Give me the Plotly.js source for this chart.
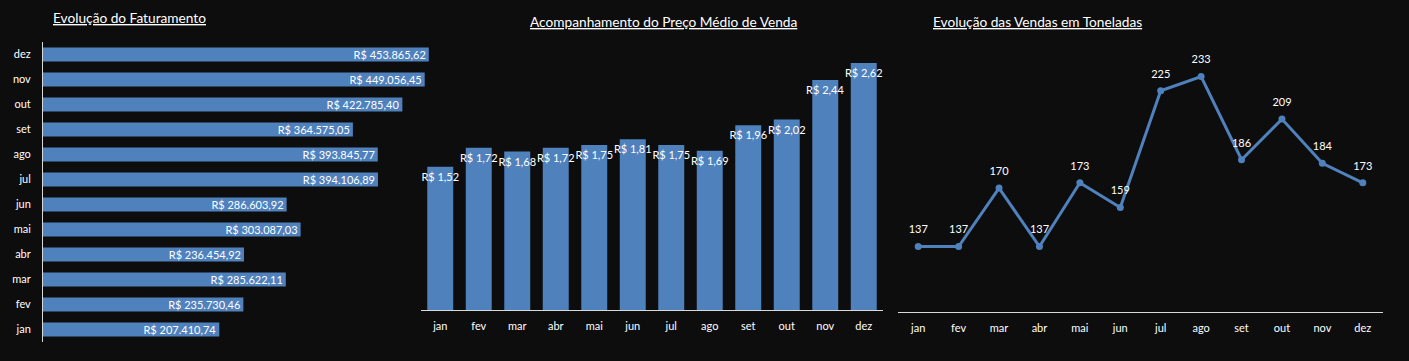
<!DOCTYPE html>
<html>
<head>
<meta charset="utf-8">
<script src="https://cdn.plot.ly/plotly-3.0.1.min.js"></script>
<style>
html,body{margin:0;padding:0;background:#0d0d0d;}
#chart{width:1409px;height:361px;}
</style>
</head>
<body>
<div id="chart"></div>
<script>
const months = ['jan','fev','mar','abr','mai','jun','jul','ago','set','out','nov','dez'];
const faturamento = [207410.74, 235730.46, 285622.11, 236454.92, 303087.03, 286603.92, 394106.89, 393845.77, 364575.05, 422785.40, 449056.45, 453865.62];
const precoMedio = [1.52, 1.72, 1.68, 1.72, 1.75, 1.81, 1.75, 1.69, 1.96, 2.02, 2.44, 2.62];
const toneladas = [137, 137, 170, 137, 173, 159, 225, 233, 186, 209, 184, 173];

const titles = ['Evolução do Faturamento', 'Acompanhamento do Preço Médio de Venda', 'Evolução das Vendas em Toneladas'];

const W = 1409, H = 361;
const px = v => v / W;
const py = v => (H - v) / H;

const FONT = 'Lato, "Open Sans", sans-serif';
const BLUE = '#4f81bd';
const AXIS = '#d9d9d9';

const traces = [
  {
    type: 'bar', orientation: 'h',
    x: faturamento, y: months,
    xaxis: 'x', yaxis: 'y',
    width: 0.56,
    marker: {color: BLUE},
    texttemplate: 'R$ %{x:,.2f}',
    textposition: 'inside', insidetextanchor: 'end',
    constraintext: 'none', textangle: 0, cliponaxis: false,
    textfont: {color: '#ffffff', size: 11, family: FONT},
    hoverinfo: 'skip'
  },
  {
    type: 'bar',
    x: months, y: precoMedio,
    xaxis: 'x2', yaxis: 'y2',
    width: 0.675,
    marker: {color: BLUE},
    texttemplate: 'R$ %{y:.2f}',
    textposition: 'inside', insidetextanchor: 'end',
    constraintext: 'none', textangle: 0, cliponaxis: false,
    textfont: {color: '#ffffff', size: 11, family: FONT},
    hoverinfo: 'skip'
  },
  {
    type: 'scatter', mode: 'lines+markers',
    x: months, y: toneladas,
    xaxis: 'x3', yaxis: 'y3',
    line: {color: BLUE, width: 3},
    marker: {color: BLUE, size: 7},
    hoverinfo: 'skip'
  },
  {
    type: 'scatter', mode: 'markers+text',
    x: months, y: toneladas,
    xaxis: 'x3', yaxis: 'y3',
    marker: {color: 'rgba(0,0,0,0)', size: 15},
    text: toneladas.map(String),
    textposition: 'top center', cliponaxis: false,
    textfont: {color: '#ffffff', size: 11, family: FONT},
    hoverinfo: 'skip'
  }
];

const tickFont = {color: '#ffffff', size: 11, family: FONT};
const titleFont = {color: '#ffffff', size: 13.7, family: FONT};

const layout = {
  width: W, height: H,
  margin: {l: 0, r: 0, t: 0, b: 0},
  paper_bgcolor: '#0d0d0d', plot_bgcolor: 'rgba(0,0,0,0)',
  separators: ',.',
  showlegend: false,
  font: {family: FONT, color: '#ffffff'},
  xaxis: {domain: [px(43), px(451)], range: [0, 480000], showgrid: false, zeroline: false,
          showticklabels: false, showline: false, fixedrange: true},
  yaxis: {domain: [py(342), py(42)], type: 'category', categoryorder: 'array', categoryarray: months,
          range: [-0.5, 11.5], showgrid: false, zeroline: false, showline: true, linecolor: AXIS, linewidth: 1,
          ticks: '', ticklabelstandoff: 9, tickfont: tickFont, fixedrange: true, anchor: 'x'},
  xaxis2: {domain: [px(421), px(883)], type: 'category', categoryorder: 'array', categoryarray: months,
           range: [-0.5, 11.5], showgrid: false, zeroline: false, showline: true, linecolor: AXIS, linewidth: 1,
           ticks: '', ticklabelstandoff: 6, tickfont: tickFont, anchor: 'y2', fixedrange: true},
  yaxis2: {domain: [py(310), py(46)], range: [0, 2.8], showgrid: false, zeroline: false, showline: false,
           showticklabels: false, anchor: 'x2', fixedrange: true},
  xaxis3: {domain: [px(898), px(1383)], type: 'category', categoryorder: 'array', categoryarray: months,
           range: [-0.5, 11.5], showgrid: false, zeroline: false, showline: true, linecolor: AXIS, linewidth: 1,
           ticks: '', ticklabelstandoff: 6, tickfont: tickFont, anchor: 'y3', fixedrange: true},
  yaxis3: {domain: [py(312), py(46.5)], range: [100, 250], showgrid: false, zeroline: false, showline: false,
           showticklabels: false, anchor: 'x3', fixedrange: true},
  annotations: [
    {text: '<u>' + titles[0] + '</u>', xref: 'paper', yref: 'paper', x: px(51), y: py(18),
     xanchor: 'left', yanchor: 'middle', showarrow: false, font: titleFont},
    {text: '<u>' + titles[1] + '</u>', xref: 'paper', yref: 'paper', x: px(663), y: py(22),
     xanchor: 'center', yanchor: 'middle', showarrow: false, font: titleFont},
    {text: '<u>' + titles[2] + '</u>', xref: 'paper', yref: 'paper', x: px(931), y: py(22),
     xanchor: 'left', yanchor: 'middle', showarrow: false, font: titleFont}
  ]
};

Plotly.newPlot('chart', traces, layout, {displayModeBar: false, staticPlot: true});
</script>
</body>
</html>
